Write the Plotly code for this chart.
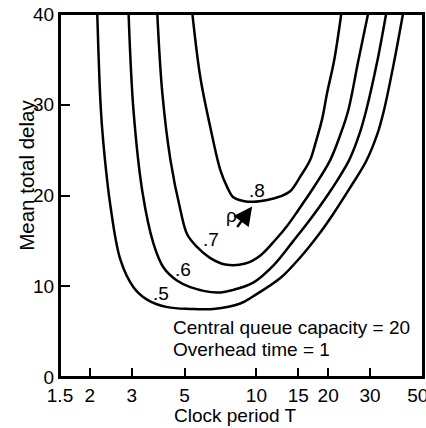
import numpy as np
import plotly.graph_objects as go

# Clock period T (log axis) and mean total delay for each load rho
T_05 = [2.15, 2.22, 2.28, 2.44, 2.69, 3.05, 3.49, 4.23, 5.28, 6.60, 8.56, 9.70, 12.6, 15.3, 18.5, 20.8, 24.5, 28.9, 32.1, 34.3, 37.8, 41.2]
D_05 = [40, 30.0, 25.8, 18.9, 12.9, 9.9, 8.5, 7.7, 7.5, 7.5, 8.1, 8.9, 10.9, 13.2, 15.9, 17.8, 20.7, 23.8, 26.7, 29.4, 34.7, 40]

T_06 = [2.91, 3.05, 3.33, 3.70, 4.07, 4.66, 5.28, 6.85, 8.00, 9.70, 11.8, 14.3, 17.3, 20.8, 24.5, 27.0, 28.9, 32.1, 35.0]
D_06 = [40, 29.4, 20.3, 14.7, 12.1, 10.6, 9.9, 9.3, 9.6, 10.4, 12.3, 15.0, 17.8, 20.8, 23.9, 26.7, 29.4, 34.7, 40]

T_07 = [3.84, 4.03, 4.36, 4.80, 5.13, 5.65, 6.41, 7.40, 8.98, 10.4, 12.0, 13.5, 15.0, 17.6, 20.4, 22.5, 24.3, 26.7, 29.4]
D_07 = [40, 31.3, 23.9, 18.4, 15.7, 14.3, 13.1, 12.4, 12.5, 13.4, 15.1, 16.7, 18.4, 21.1, 23.9, 26.7, 29.4, 34.7, 40]

T_08 = [5.39, 5.82, 6.41, 7.06, 7.55, 8.00, 8.81, 9.70, 11.1, 12.6, 13.9, 15.3, 16.8, 17.8, 18.9, 19.8, 21.2, 22.7]
D_08 = [40, 33.0, 27.5, 22.8, 20.9, 19.8, 19.4, 19.3, 19.5, 19.9, 20.5, 22.1, 23.9, 26.0, 28.5, 31.3, 34.9, 40]

series_T = [T_05, T_06, T_07, T_08]
series_D = [D_05, D_06, D_07, D_08]
rho_labels = [".5", ".6", ".7", ".8"]
label_T = [3.96, 4.94, 6.47, 10.1]
label_D = [9.2, 11.8, 15.1, 20.5]

x_ticks = [1.5, 2, 3, 5, 10, 15, 20, 30, 50]
x_tick_text = ["1.5", "2", "3", "5", "10", "15", "20", "30", "50\u00a0\u00a0"]
y_ticks = [0, 10, 20, 30, 40]

FONT = "Liberation Sans, Arial, sans-serif"

fig = go.Figure()
for T, D, name in zip(series_T, series_D, rho_labels):
    fig.add_trace(go.Scatter(
        x=T, y=D, mode="lines", name=name,
        line=dict(color="black", width=2.5, shape="spline", smoothing=1.0),
        showlegend=False, hoverinfo="skip"))

annotations = []
for t, d, txt in zip(label_T, label_D, rho_labels):
    annotations.append(dict(x=np.log10(t), y=d, xref="x", yref="y", text=txt,
                            showarrow=False, font=dict(size=19, color="black", family=FONT)))

# rho with arrow
annotations.append(dict(x=np.log10(7.85), y=17.8, xref="x", yref="y", text="ρ",
                        showarrow=False, font=dict(size=19, color="black", family=FONT)))
annotations.append(dict(x=np.log10(9.6), y=18.8, xref="x", yref="y", text="",
                        showarrow=True, arrowhead=2, arrowsize=1.5, arrowwidth=2.5,
                        arrowcolor="black", ax=-16, ay=22))

annotations.append(dict(x=np.log10(4.4), y=5.5, xref="x", yref="y", xanchor="left",
                        text="Central queue capacity = 20", showarrow=False,
                        font=dict(size=19, color="black", family=FONT)))
annotations.append(dict(x=np.log10(4.4), y=3.05, xref="x", yref="y", xanchor="left",
                        text="Overhead time = 1", showarrow=False,
                        font=dict(size=19, color="black", family=FONT)))

# axis titles
annotations.append(dict(x=-0.093, y=0.555, xref="paper", yref="paper",
                        xanchor="center", yanchor="middle",
                        text="Mean total delay", textangle=-90, showarrow=False,
                        font=dict(size=20.5, color="black", family=FONT)))
annotations.append(dict(x=0.484, y=-0.105, xref="paper", yref="paper",
                        xanchor="center", yanchor="middle",
                        text="Clock period T", showarrow=False,
                        font=dict(size=19, color="black", family=FONT)))

fig.update_layout(
    width=426, height=428,
    margin=dict(l=60, r=3, t=14, b=51),
    paper_bgcolor="white", plot_bgcolor="white",
    font=dict(family=FONT, size=19, color="black"),
    annotations=annotations,
    shapes=[dict(type="rect", xref="paper", yref="paper", x0=0, x1=1, y0=0, y1=1,
                 line=dict(color="black", width=2), layer="above")],
)
fig.update_xaxes(
    type="log", range=[np.log10(1.5), np.log10(50)],
    tickvals=x_ticks, ticktext=x_tick_text, ticklabeloverflow="allow",
    ticks="inside", ticklen=9, tickwidth=2, tickcolor="black",
    showline=True, linewidth=2, linecolor="black", mirror=True,
    showgrid=False, zeroline=False, automargin=False,
)
fig.update_yaxes(
    range=[0, 40], tickvals=y_ticks, ticklabeloverflow="allow",
    ticks="inside", ticklen=10, tickwidth=2, tickcolor="black",
    showline=True, linewidth=2, linecolor="black", mirror=True,
    showgrid=False, zeroline=False, automargin=False,
)

fig.write_html("out.html", config={"displayModeBar": False},
               post_script="document.body.style.margin='0px';document.body.style.overflow='hidden';")
